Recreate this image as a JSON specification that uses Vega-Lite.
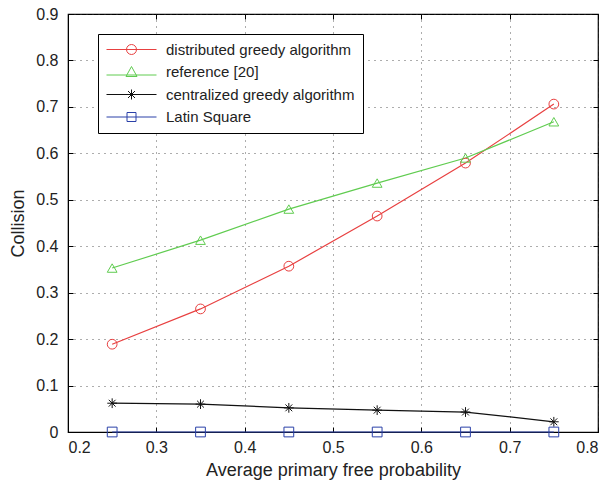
{
  "$schema": "https://vega.github.io/schema/vega-lite/v6.json",
  "width": 530,
  "height": 418,
  "autosize": "none",
  "padding": {"left": 68, "top": 14, "right": 12, "bottom": 53},
  "background": "white",
  "config": {
    "font": "Liberation Sans",
    "view": {"stroke": "black", "strokeWidth": 1.2},
    "axis": {
      "labelFont": "Liberation Sans",
      "titleFont": "Liberation Sans",
      "labelFontSize": 16,
      "titleFontSize": 18,
      "titleFontWeight": "normal",
      "labelColor": "#222",
      "titleColor": "#222",
      "domainColor": "black",
      "tickColor": "black",
      "tickSize": -5,
      "gridColor": "#333",
      "gridDash": [1, 5],
      "gridWidth": 1,
      "gridOpacity": 0.8
    },
    "legend": {
      "orient": "none",
      "legendX": 30,
      "legendY": 20,
      "title": null,
      "labelFont": "Liberation Sans",
      "labelFontSize": 15,
      "labelColor": "#222",
      "symbolSize": 100,
      "symbolStrokeWidth": 1,
      "symbolOffset": 18,
      "labelOffset": 27,
      "padding": 8,
      "rowPadding": 6.5,
      "strokeColor": "black",
      "fillColor": "white",
      "labelLimit": 300
    }
  },
  "data": {
    "values": [
      {"p": 0.25, "v": 0.189, "s": "distributed greedy algorithm", "m": "circle"},
      {"p": 0.35, "v": 0.265, "s": "distributed greedy algorithm", "m": "circle"},
      {"p": 0.45, "v": 0.357, "s": "distributed greedy algorithm", "m": "circle"},
      {"p": 0.55, "v": 0.465, "s": "distributed greedy algorithm", "m": "circle"},
      {"p": 0.65, "v": 0.579, "s": "distributed greedy algorithm", "m": "circle"},
      {"p": 0.75, "v": 0.706, "s": "distributed greedy algorithm", "m": "circle"},
      {"p": 0.25, "v": 0.353, "s": "reference [20]", "m": "triangle"},
      {"p": 0.35, "v": 0.413, "s": "reference [20]", "m": "triangle"},
      {"p": 0.45, "v": 0.480, "s": "reference [20]", "m": "triangle"},
      {"p": 0.55, "v": 0.536, "s": "reference [20]", "m": "triangle"},
      {"p": 0.65, "v": 0.590, "s": "reference [20]", "m": "triangle"},
      {"p": 0.75, "v": 0.668, "s": "reference [20]", "m": "triangle"},
      {"p": 0.25, "v": 0.062, "s": "centralized greedy algorithm", "m": "asterisk"},
      {"p": 0.35, "v": 0.060, "s": "centralized greedy algorithm", "m": "asterisk"},
      {"p": 0.45, "v": 0.052, "s": "centralized greedy algorithm", "m": "asterisk"},
      {"p": 0.55, "v": 0.047, "s": "centralized greedy algorithm", "m": "asterisk"},
      {"p": 0.65, "v": 0.043, "s": "centralized greedy algorithm", "m": "asterisk"},
      {"p": 0.75, "v": 0.022, "s": "centralized greedy algorithm", "m": "asterisk"},
      {"p": 0.25, "v": 0, "s": "Latin Square", "m": "square"},
      {"p": 0.35, "v": 0, "s": "Latin Square", "m": "square"},
      {"p": 0.45, "v": 0, "s": "Latin Square", "m": "square"},
      {"p": 0.55, "v": 0, "s": "Latin Square", "m": "square"},
      {"p": 0.65, "v": 0, "s": "Latin Square", "m": "square"},
      {"p": 0.75, "v": 0, "s": "Latin Square", "m": "square"}
    ]
  },
  "layer": [
    {
      "mark": {"type": "line", "strokeWidth": 1.2},
      "encoding": {
        "x": {
          "field": "p", "type": "quantitative",
          "scale": {"domain": [0.2, 0.8], "nice": false, "zero": false},
          "axis": {"title": "Average primary free probability", "values": [0.2, 0.3, 0.4, 0.5, 0.6, 0.7, 0.8], "format": ".1f", "labelPadding": 12, "titlePadding": 6, "grid": true}
        },
        "y": {
          "field": "v", "type": "quantitative",
          "scale": {"domain": [0, 0.9], "nice": false},
          "axis": {"title": "Collision", "values": [0, 0.1, 0.2, 0.3, 0.4, 0.5, 0.6, 0.7, 0.8, 0.9], "labelExpr": "datum.value == 0 ? '0' : format(datum.value, '.1f')", "labelPadding": 15, "titlePadding": 8, "grid": true}
        },
        "color": {
          "field": "s", "type": "nominal",
          "scale": {
            "domain": ["distributed greedy algorithm", "reference [20]", "centralized greedy algorithm", "Latin Square"],
            "range": ["#e84040", "#60cc50", "#111111", "#2a40a8"]
          },
          "legend": {
            "symbolType": {"expr": "datum.value == 'distributed greedy algorithm' ? 'M-5,0L5,0M-1,0A1,1 0 1,1 1,0A1,1 0 1,1 -1,0' : datum.value == 'reference [20]' ? 'M-5,0.6L5,0.6M0,-1.1L1.1,0.9L-1.1,0.9Z' : datum.value == 'centralized greedy algorithm' ? 'M-5,0L5,0M0,-1L0,1M-0.7,-0.7L0.7,0.7M-0.7,0.7L0.7,-0.7' : 'M-5,0L5,0M-0.9,-0.9L0.9,-0.9L0.9,0.9L-0.9,0.9Z'"}
          }
        }
      }
    },
    {
      "mark": {"type": "point", "filled": false, "size": 95, "strokeWidth": 1, "opacity": 1},
      "encoding": {
        "x": {"field": "p", "type": "quantitative", "axis": null},
        "y": {"field": "v", "type": "quantitative", "axis": null},
        "color": {
          "field": "s", "type": "nominal",
          "legend": {
            "symbolType": {"expr": "datum.value == 'distributed greedy algorithm' ? 'M-5,0L5,0M-1,0A1,1 0 1,1 1,0A1,1 0 1,1 -1,0' : datum.value == 'reference [20]' ? 'M-5,0.6L5,0.6M0,-1.1L1.1,0.9L-1.1,0.9Z' : datum.value == 'centralized greedy algorithm' ? 'M-5,0L5,0M0,-1L0,1M-0.7,-0.7L0.7,0.7M-0.7,0.7L0.7,-0.7' : 'M-5,0L5,0M-0.9,-0.9L0.9,-0.9L0.9,0.9L-0.9,0.9Z'"}
          }
        },
        "shape": {
          "field": "m", "type": "nominal",
          "scale": {
            "domain": ["circle", "triangle", "asterisk", "square"],
            "range": ["circle", "triangle-up", "M-1,0L1,0M0,-1L0,1M-0.7,-0.7L0.7,0.7M-0.7,0.7L0.7,-0.7", "square"]
          },
          "legend": null
        }
      }
    },
    {
      "mark": {"type": "point", "opacity": 0},
      "encoding": {
        "x": {"field": "p", "type": "quantitative", "axis": {"orient": "top", "values": [0.2, 0.3, 0.4, 0.5, 0.6, 0.7, 0.8], "labels": false, "title": null, "grid": false, "domain": false}},
        "y": {"field": "v", "type": "quantitative", "axis": {"orient": "right", "values": [0, 0.1, 0.2, 0.3, 0.4, 0.5, 0.6, 0.7, 0.8, 0.9], "labels": false, "title": null, "grid": false, "domain": false}}
      }
    }
  ],
  "resolve": {"axis": {"x": "independent", "y": "independent"}}
}
